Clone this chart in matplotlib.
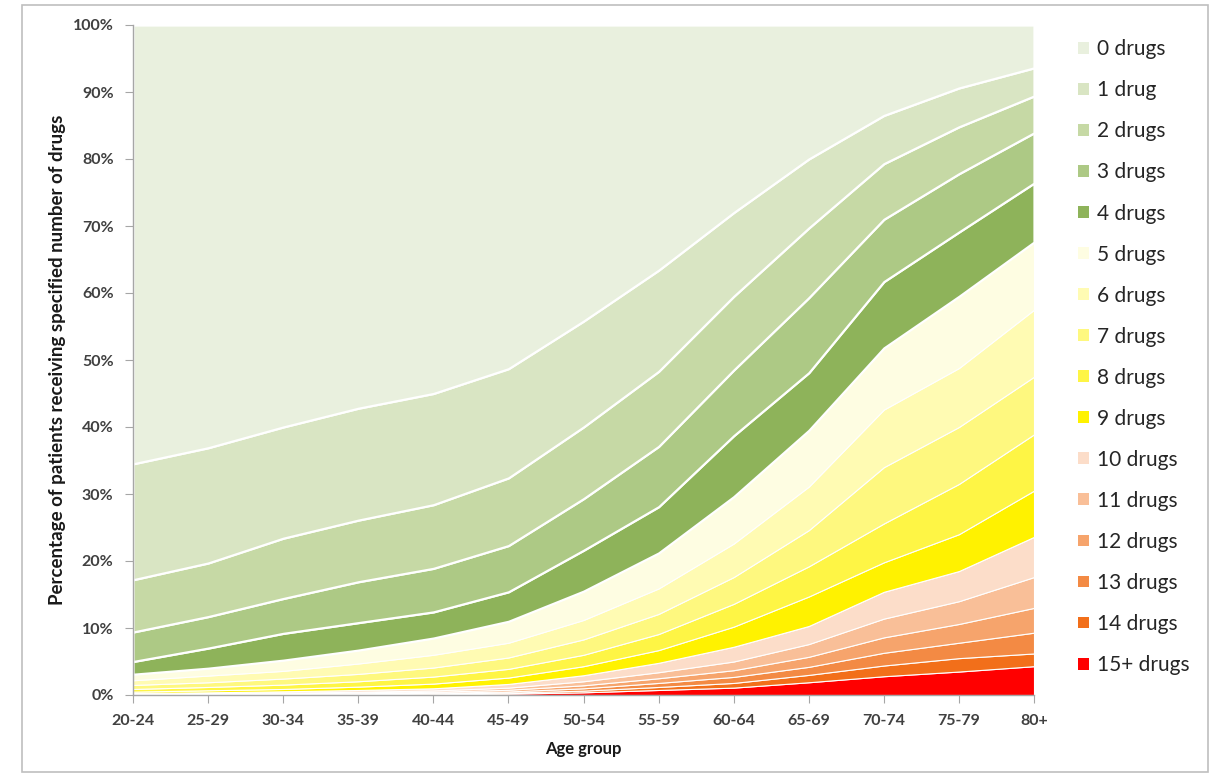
import matplotlib
matplotlib.use("Agg")
import matplotlib.pyplot as plt
from matplotlib.patches import Rectangle, Patch
import numpy as np

age_groups = ["20-24", "25-29", "30-34", "35-39", "40-44", "45-49", "50-54",
              "55-59", "60-64", "65-69", "70-74", "75-79", "80+"]

# Percentage of patients per number of drugs (stack order: bottom -> top)
drugs_15p = [0.02, 0.03, 0.04, 0.06, 0.10, 0.20, 0.40, 0.75, 1.1, 1.9, 2.8, 3.5, 4.3]
drugs_14 = [0.03, 0.04, 0.05, 0.07, 0.10, 0.15, 0.25, 0.45, 0.7, 1.1, 1.6, 2.0, 1.9]
drugs_13 = [0.04, 0.05, 0.07, 0.09, 0.12, 0.18, 0.35, 0.60, 0.9, 1.2, 1.9, 2.3, 3.1]
drugs_12 = [0.05, 0.06, 0.09, 0.12, 0.16, 0.25, 0.45, 0.70, 1.0, 1.5, 2.3, 2.8, 3.7]
drugs_11 = [0.06, 0.08, 0.10, 0.14, 0.20, 0.32, 0.60, 0.90, 1.3, 1.9, 2.8, 3.4, 4.6]
drugs_10 = [0.10, 0.14, 0.20, 0.27, 0.32, 0.55, 0.90, 1.40, 2.2, 2.7, 4.0, 4.5, 6.0]
drugs_9 = [0.2, 0.3, 0.35, 0.5, 0.7, 0.95, 1.35, 1.9, 3.0, 4.4, 4.4, 5.5, 6.9]
drugs_8 = [0.4, 0.5, 0.65, 0.8, 1.05, 1.3, 1.7, 2.4, 3.4, 4.5, 5.8, 7.5, 8.4]
drugs_7 = [0.6, 0.7, 0.9, 1.1, 1.35, 1.7, 2.3, 3.0, 4.0, 5.4, 8.4, 8.5, 8.6]
drugs_6 = [0.7, 1.0, 1.15, 1.55, 1.9, 2.2, 2.9, 3.8, 5.0, 6.5, 8.6, 8.8, 10.0]
drugs_5 = [0.9, 1.1, 1.6, 2.0, 2.5, 3.2, 4.3, 5.3, 7.0, 8.4, 9.2, 10.7, 10.1]
drugs_4 = [1.9, 3.0, 4.0, 4.1, 3.9, 4.4, 6.1, 6.9, 9.1, 8.6, 9.9, 9.6, 8.8]
drugs_3 = [4.4, 4.7, 5.2, 6.1, 6.5, 6.9, 7.7, 9.0, 9.8, 11.2, 9.3, 8.7, 7.5]
drugs_2 = [7.8, 8.0, 9.0, 9.2, 9.5, 10.1, 10.7, 11.2, 11.0, 10.4, 8.3, 7.0, 5.5]
drugs_1 = [17.3, 17.2, 16.6, 16.7, 16.6, 16.3, 15.8, 15.1, 12.5, 10.3, 7.2, 5.8, 4.2]
drugs_0 = [65.5, 63.1, 60.0, 57.2, 55.0, 51.3, 44.2, 36.6, 28.0, 20.0, 13.5, 9.4, 6.4]

series = [drugs_15p, drugs_14, drugs_13, drugs_12, drugs_11, drugs_10, drugs_9,
          drugs_8, drugs_7, drugs_6, drugs_5, drugs_4, drugs_3, drugs_2, drugs_1, drugs_0]
labels = ["15+ drugs", "14 drugs", "13 drugs", "12 drugs", "11 drugs", "10 drugs",
          "9 drugs", "8 drugs", "7 drugs", "6 drugs", "5 drugs", "4 drugs",
          "3 drugs", "2 drugs", "1 drug", "0 drugs"]
colors = ["#FF0000", "#F26F1A", "#F38A44", "#F6A46C", "#F9BF98", "#FCDDC9",
          "#FFF200", "#FEF545", "#FEF87F", "#FFFBB3", "#FEFDE2", "#8EB35A",
          "#ADC985", "#C6D9A5", "#D9E5C3", "#E9F0DE"]

fig = plt.figure(figsize=(12.16, 7.77), dpi=100)
fig.patches.append(Rectangle((22 / 1216, 1 - 772 / 777), (1208 - 22) / 1216, (772 - 5) / 777,
                             transform=fig.transFigure, fill=False,
                             edgecolor="#BFBFBF", linewidth=1.2))

ax = fig.add_axes([133 / 1216, (777 - 695) / 777, 901 / 1216, 670 / 777])
x = np.arange(len(age_groups))
polys = ax.stackplot(x, *series, colors=colors, edgecolor="white", linewidth=0.8)
for i, p in enumerate(polys):
    if i >= 11:
        p.set_linewidth(1.6)

ax.set_xlim(0, len(age_groups) - 1)
ax.set_ylim(0, 100)
ax.set_xticks(x)
ax.set_xticklabels(age_groups)
ax.set_yticks(np.arange(0, 101, 10))
ax.set_yticklabels([f"{v}%" for v in range(0, 101, 10)])

for s in ["top", "right"]:
    ax.spines[s].set_visible(False)
for s in ["left", "bottom"]:
    ax.spines[s].set_color("#A6A6A6")
    ax.spines[s].set_linewidth(1.0)
ax.tick_params(axis="both", colors="#A6A6A6", labelcolor="#404040",
               labelsize=11.5, length=6, direction="out")
for t in ax.get_xticklabels() + ax.get_yticklabels():
    t.set_family("Lato")
    t.set_fontweight("bold")
ax.tick_params(axis="x", pad=8)
ax.tick_params(axis="y", pad=8)

ax.set_xlabel("Age group", fontsize=12, fontweight="bold", family="Lato",
              color="#1a1a1a", labelpad=9)
ax.set_ylabel("Percentage of patients receiving specified number of drugs",
              fontsize=13.5, fontweight="bold", family="Lato", color="#1a1a1a",
              labelpad=5)

handles = [Patch(facecolor=c, edgecolor="none") for c in colors][::-1]
leg = fig.legend(handles, labels[::-1], loc="upper left",
                 bbox_to_anchor=(1070 / 1216, 1 - 31 / 777),
                 frameon=False, prop={"family": "Lato", "size": 15},
                 handlelength=0.5, handleheight=0.5, handletextpad=0.4,
                 labelspacing=1.01, borderaxespad=0)
for t in leg.get_texts():
    t.set_color("#262626")

fig.savefig("out.png", dpi=100)
